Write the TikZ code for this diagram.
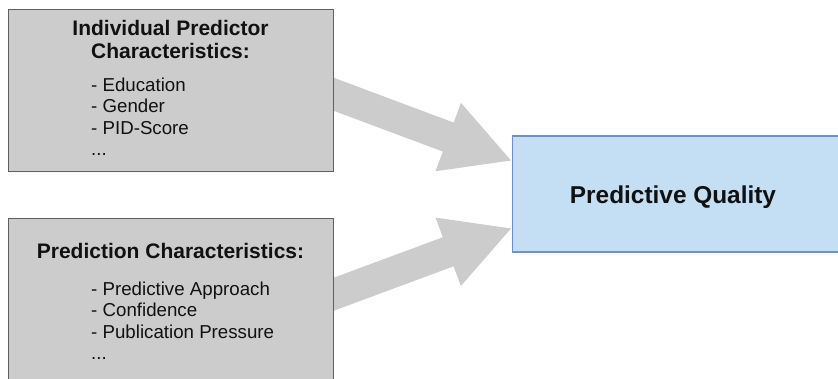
\documentclass[tikz,border=0pt]{standalone}
\usepackage{fontspec}
\setmainfont{Liberation Sans}
\usetikzlibrary{calc,backgrounds}

\definecolor{boxgray}{HTML}{CCCCCC}
\definecolor{boxedge}{HTML}{5F5F5F}
\definecolor{arrowgray}{HTML}{CCCCCC}
\definecolor{qualfill}{HTML}{C4DFF4}
\definecolor{qualedge}{HTML}{6D8FDB}
\definecolor{ink}{HTML}{111111}

\tikzset{
  graybox/.style={draw=boxedge, fill=boxgray, line width=1pt, rectangle,
    inner sep=0pt, outer sep=0pt},
  qualbox/.style={draw=qualedge, fill=qualfill, line width=1.2pt, rectangle,
    inner sep=0pt, outer sep=0pt},
  headtext/.style={anchor=base, inner sep=0pt, text=ink,
    font=\fontsize{21}{25}\selectfont\bfseries},
  itemtext/.style={anchor=base west, inner sep=0pt, text=ink,
    font=\fontsize{18.7}{22}\selectfont},
  qualtext/.style={anchor=base, inner sep=0pt, text=ink,
    font=\fontsize{24.4}{29}\selectfont\bfseries},
  fatarrow/.style={fill=arrowgray}
}

% broad block arrow from #1 (tail, on a box edge) to #2 (tip)
\newcommand\fatarrow[3]{%
  \coordinate (#3o) at ($(#1)!-20pt!(#2)$);
  \coordinate (#3b) at ($(#2)!67pt!(#1)$);
  \fill[fatarrow]
    ($(#3o)!15.5pt!90:(#2)$) -- ($(#3b)!15.5pt!90:(#2)$) --
    ($(#3b)!36.5pt!90:(#2)$) -- (#2) --
    ($(#3b)!36.5pt!-90:(#2)$) -- ($(#3b)!15.5pt!-90:(#2)$) --
    ($(#3o)!15.5pt!-90:(#2)$) -- cycle;}

\begin{document}
\begin{tikzpicture}[x=1pt,y=-1pt]
  \clip (0,0) rectangle (838,378);

  % boxes
  \node[graybox, minimum width=325pt, minimum height=162pt] (ind) at (170.5,90) {};
  \node[graybox, minimum width=325pt, minimum height=162pt] (pc) at (170.5,299) {};
  \node[qualbox, minimum width=340pt, minimum height=116pt] (pq) at (682.5,194) {};

  % arrows behind the boxes
  \coordinate (a1s) at ($(ind.east)+(0,4)$);
  \coordinate (a1t) at ($(pq.west)+(-1.5,-33.5)$);
  \coordinate (a2s) at ($(pc.east)+(0,-4.5)$);
  \coordinate (a2t) at ($(pq.west)+(-1.5,34.5)$);
  \begin{pgfonlayer}{background}
    \fatarrow{a1s}{a1t}{ua}
    \fatarrow{a2s}{a2t}{la}
  \end{pgfonlayer}

  % individual predictor characteristics
  \node[headtext] (h1a) at (170.5,35) {Individual Predictor};
  \node[headtext] (h1b) at (170.5,58) {Characteristics:};
  \node[itemtext] (i1a) at (91,91) {- Education};
  \node[itemtext] (i1b) at (91,112.5) {- Gender};
  \node[itemtext] (i1c) at (91,134) {- PID-Score};
  \node[itemtext] (i1d) at (91,155.5) {...};

  % prediction characteristics
  \node[headtext] (h2a) at (170.5,258) {Prediction Characteristics:};
  \node[itemtext] (i2a) at (91,295) {- Predictive Approach};
  \node[itemtext] (i2b) at (91,316.5) {- Confidence};
  \node[itemtext] (i2c) at (91,338) {- Publication Pressure};
  \node[itemtext] (i2d) at (91,359.5) {...};

  % outcome
  \node[qualtext] (q) at (673,203) {Predictive Quality};
\end{tikzpicture}
\end{document}
